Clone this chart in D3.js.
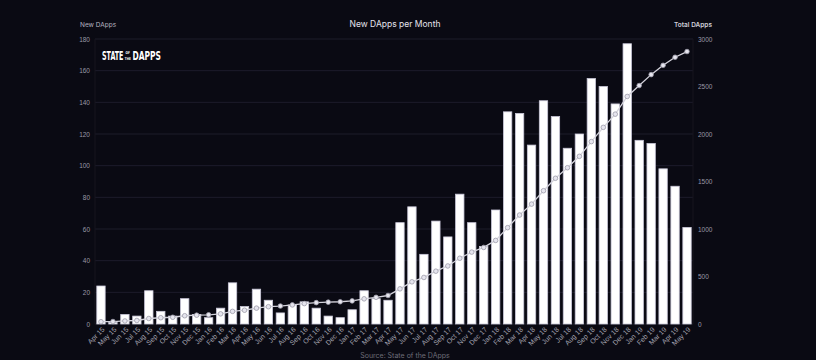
<!DOCTYPE html>
<html>
<head>
<meta charset="utf-8">
<script src="https://cdn.jsdelivr.net/npm/d3@7"></script>
<style>
  body { margin: 0; background: #0a0a13; }
  svg { display: block; font-family: "Inter", "DejaVu Sans", sans-serif; }
</style>
</head>
<body>
<svg id="chart" width="816" height="360"></svg>
<script>
// months shown on the x axis
const months = [
  "Apr 15","May 15","Jun 15","Jul 15","Aug 15","Sep 15","Oct 15","Nov 15","Dec 15",
  "Jan 16","Feb 16","Mar 16","Apr 16","May 16","Jun 16","Jul 16","Aug 16","Sep 16","Oct 16","Nov 16","Dec 16",
  "Jan 17","Feb 17","Mar 17","Apr 17","May 17","Jun 17","Jul 17","Aug 17","Sep 17","Oct 17","Nov 17","Dec 17",
  "Jan 18","Feb 18","Mar 18","Apr 18","May 18","Jun 18","Jul 18","Aug 18","Sep 18","Oct 18","Nov 18","Dec 18",
  "Jan 19","Feb 19","Mar 19","Apr 19","May 19"
];
// new dapps per month (bars, left axis)
const newDapps = [
  24, 1, 6, 5, 21, 8, 5, 16, 6,
  4, 10, 26, 11, 22, 15, 7, 12, 14, 10, 5, 4,
  9, 21, 16, 15, 64, 74, 44, 65, 55, 82, 64, 49,
  72, 134, 133, 113, 141, 131, 111, 120, 155, 150, 139, 177,
  116, 114, 98, 87, 61
];
// total dapps (line, right axis)
const totalDapps = [
  24, 26, 32, 37, 58, 66, 71, 87, 93,
  97, 107, 133, 145, 167, 182, 189, 201, 215, 225, 230, 234,
  243, 265, 281, 300, 370, 444, 490, 556, 611, 692, 757, 806,
  880, 1014, 1147, 1262, 1403, 1534, 1645, 1765, 1920, 2070, 2209, 2395,
  2510, 2625, 2723, 2808, 2868
];
const leftTicks = [0, 20, 40, 60, 80, 100, 120, 140, 160, 180];
const rightTicks = [0, 500, 1000, 1500, 2000, 2500, 3000];

const svg = d3.select("#chart");
const W = 816, H = 360;
const plotL = 95, plotR = 693, plotT = 39, plotB = 324;

svg.append("rect").attr("width", W).attr("height", H).attr("fill", "#0a0a13");

const x = d3.scaleBand().domain(months).range([plotL, plotR])
  .paddingInner(0.3).paddingOuter(0.15);
const yL = d3.scaleLinear().domain([0, 180]).range([plotB, plotT]);
const yR = d3.scaleLinear().domain([0, 3000]).range([plotB, plotT]);

// grid
svg.append("g")
  .selectAll("line")
  .data(leftTicks)
  .enter()
  .append("line")
  .attr("x1", plotL).attr("x2", plotR)
  .attr("y1", d => yL(d)).attr("y2", d => yL(d))
  .attr("stroke", "#1d1c2b").attr("stroke-width", 1);
[plotL, plotR].forEach(xx => {
  svg.append("line")
    .attr("x1", xx).attr("x2", xx).attr("y1", plotT).attr("y2", plotB)
    .attr("stroke", "#16151f");
});

// left axis
const axL = svg.append("g")
  .attr("transform", "translate(" + (plotL - 2) + ",0)")
  .call(d3.axisLeft(yL).tickValues(leftTicks).tickSize(0).tickPadding(3));
axL.select(".domain").remove();
axL.selectAll("text").attr("fill", "#9a99a6").style("font-size", "6.5px");

// right axis
const axR = svg.append("g")
  .attr("transform", "translate(" + (plotR + 2) + ",0)")
  .call(d3.axisRight(yR).tickValues(rightTicks).tickFormat(d3.format("d")).tickSize(0).tickPadding(3));
axR.select(".domain").remove();
axR.selectAll("text").attr("fill", "#9a99a6").style("font-size", "6.5px");

// bottom axis labels
const axB = svg.append("g")
  .attr("transform", "translate(0," + plotB + ")")
  .call(d3.axisBottom(x).tickSize(0).tickPadding(0));
axB.select(".domain").remove();
axB.selectAll("text")
  .attr("fill", "#a5a4b0")
  .style("font-size", "7px")
  .style("text-anchor", "end")
  .attr("dy", 0)
  .attr("transform", "translate(4,6) rotate(-45)");

// bars
svg.append("g")
  .selectAll("rect")
  .data(newDapps)
  .enter()
  .append("rect")
  .attr("x", (d, i) => x(months[i]))
  .attr("y", d => yL(d))
  .attr("width", x.bandwidth())
  .attr("height", d => yL(0) - yL(d))
  .attr("fill", "#ffffff")
  .attr("stroke", "#c9c7d8")
  .attr("stroke-width", 0.8);

// total line
const line = d3.line()
  .x((d, i) => x(months[i]) + x.bandwidth() / 2)
  .y(d => yR(d));
svg.append("path")
  .datum(totalDapps)
  .attr("d", line)
  .attr("fill", "none")
  .attr("stroke", "#d4d3dc")
  .attr("stroke-width", 1.3);
svg.append("g")
  .selectAll("circle")
  .data(totalDapps)
  .enter()
  .append("circle")
  .attr("cx", (d, i) => x(months[i]) + x.bandwidth() / 2)
  .attr("cy", d => yR(d))
  .attr("r", 2.3)
  .attr("fill", "#e6e5ee")
  .attr("stroke", "#9d9caa")
  .attr("stroke-width", 0.8);

// titles
svg.append("text").attr("x", 395).attr("y", 27).attr("text-anchor", "middle")
  .attr("fill", "#e4e3ec").style("font-size", "8.5px").text("New DApps per Month");
svg.append("text").attr("x", 80).attr("y", 27)
  .attr("fill", "#b5b4c0").style("font-size", "6.5px").text("New DApps");
svg.append("text").attr("x", 712).attr("y", 27).attr("text-anchor", "end")
  .attr("fill", "#d0cfd9").style("font-size", "6.5px").style("font-weight", "600").text("Total DApps");

// logo: squeeze each word horizontally to the width it has in the picture
const logo = svg.append("g").attr("fill", "#ffffff")
  .style("font-family", "'DejaVu Sans Condensed', 'Liberation Sans Narrow', sans-serif")
  .style("font-weight", "bold");
function logoWord(txt, x0, y0, size, width) {
  const t = logo.append("text").style("font-size", size + "px").text(txt);
  const natural = t.node().getComputedTextLength();
  t.attr("transform", "translate(" + x0 + "," + y0 + ") scale(" + (width / natural) + ",1)");
}
logoWord("STATE", 102, 60, 12, 21.5);
logoWord("OF", 125.5, 54, 3.8, 4.5);
logoWord("THE", 124.8, 59.6, 3.8, 6);
logoWord("DAPPS", 132.5, 60, 12, 28.5);

// source line at the bottom
svg.append("text").attr("x", 405).attr("y", 358).attr("text-anchor", "middle")
  .attr("fill", "#6d6c78").style("font-size", "7px").text("Source: State of the DApps");
</script>
</body>
</html>
